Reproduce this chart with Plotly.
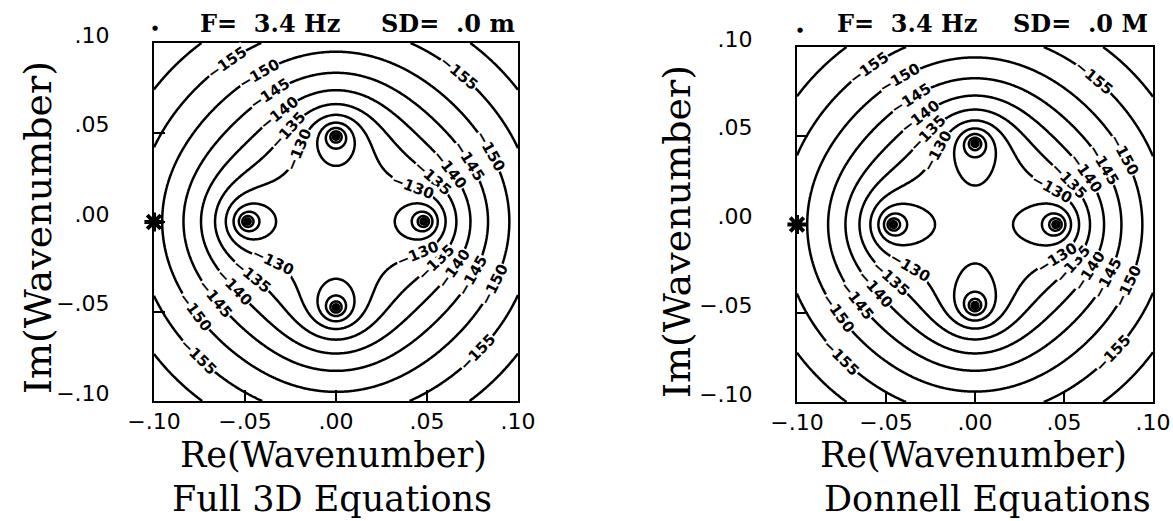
import numpy as np
import plotly.graph_objects as go

# ---------------- data ----------------
# Poles of the response in the complex wavenumber plane (Re, Im)
full3d_pole_re = [-0.0487, 0.0483, 0.0000, 0.0000]
full3d_pole_im = [0.0003, 0.0003, 0.0478, -0.0478]
donnell_pole_re = [-0.0460, 0.0456, 0.0000, 0.0000]
donnell_pole_im = [0.0000, 0.0000, 0.0458, -0.0458]
# level offset (dB) of each panel
full3d_gain = -232.3
donnell_gain = -232.6

labeled_levels = [-155, -150, -145, -140, -135, -130]
pole_levels = [-125, -120, -115, -110, -105, -100]
corner_levels = [-160]
# directions (deg, from the origin) along which the contour labels sit
label_rays_deg = [117, 25, 213, 338]
outer_label_rays_deg = [124, 51, 225, 317]

tick_vals = [-0.10, -0.05, 0.00, 0.05, 0.10]
tick_text = ["\u2212.10", "\u2212.05", ".00", ".05", ".10"]

source_point = [-0.10, 0.00]     # asterisk on the left edge

nb = "\u00a0"
title_left = ["F=" + nb * 2 + "3.4" + nb + "Hz", "F=" + nb * 2 + "3.4" + nb + "Hz"]
title_right = ["SD=" + nb * 2 + ".0" + nb + "m", "SD=" + nb * 2 + ".0" + nb + "M"]
subtitles = ["Full 3D Equations", "Donnell Equations"]
x_title = "Re(Wavenumber)"
y_title = "Im(Wavenumber)"

# ---------------- layout geometry (px) ----------------
W, H = 1173, 521
boxes = [dict(x0=154, x1=518, y0=43, y1=401), dict(x0=797, x1=1153, y0=47, y1=402)]

# ---------------- field ----------------
grid = np.linspace(-0.1, 0.1, 321)
X, Y = np.meshgrid(grid, grid)
K = X + 1j * Y


def z_of(k, pre, pim, gain):
    D = np.ones_like(k, dtype=complex)
    for a, b in zip(pre, pim):
        D = D * (k - (a + 1j * b))
    return gain - 20 * np.log10(np.abs(D) + 1e-30)


def grad_of(k, pre, pim):
    w = sum(1.0 / (k - (a + 1j * b)) for a, b in zip(pre, pim))
    c = -20 / np.log(10)
    return c * w.real, -c * w.imag


fig = go.Figure()
annotations = []
label_font = dict(family="DejaVu Sans", size=15, color="black", weight="bold")


def contour_labels(pre, pim, gain, xa, ya, box):
    sx = (box["x1"] - box["x0"]) / 0.2
    sy = (box["y1"] - box["y0"]) / 0.2
    r = np.linspace(0.012, 0.145, 5000)
    for L in labeled_levels:
        rays = outer_label_rays_deg if L == min(labeled_levels) else label_rays_deg
        for th in rays:
            k = r * np.exp(1j * np.deg2rad(th))
            d = z_of(k, pre, pim, gain) - L
            idx = np.where(np.sign(d[:-1]) != np.sign(d[1:]))[0]
            if len(idx) == 0:
                continue
            i = idx[-1]
            t = d[i] / (d[i] - d[i + 1])
            kk = k[i] + t * (k[i + 1] - k[i])
            if abs(kk.real) > 0.095 or abs(kk.imag) > 0.095:
                continue
            gx, gy = grad_of(kk, pre, pim)
            ang = np.degrees(np.arctan2(-gx * sy, -gy * sx))
            while ang > 90:
                ang -= 180
            while ang <= -90:
                ang += 180
            annotations.append(dict(text="\u2212%d" % abs(L), x=kk.real, y=kk.imag,
                                    xref=xa, yref=ya, showarrow=False, textangle=ang,
                                    font=label_font, bgcolor="white", borderpad=0,
                                    xanchor="center", yanchor="middle"))


def add_panel(pre, pim, gain, xa, ya, box):
    Z = np.round(np.minimum(z_of(K, pre, pim, gain), -95.0), 3)
    lv = labeled_levels + pole_levels + corner_levels
    fig.add_trace(go.Contour(x=grid, y=grid, z=Z, autocontour=False,
                             contours=dict(start=min(lv), end=max(lv) + 0.01, size=5,
                                           coloring="none", showlabels=False),
                             line=dict(color="black", width=2.5, smoothing=1),
                             showscale=False, hoverinfo="skip", xaxis=xa, yaxis=ya))
    fig.add_trace(go.Scatter(x=[source_point[0]], y=[source_point[1]], mode="markers",
                             marker=dict(symbol="asterisk", size=16, color="black",
                                         line=dict(color="black", width=4)),
                             cliponaxis=False, hoverinfo="skip", xaxis=xa, yaxis=ya))
    contour_labels(pre, pim, gain, xa, ya, box)


add_panel(full3d_pole_re, full3d_pole_im, full3d_gain, "x", "y", boxes[0])
add_panel(donnell_pole_re, donnell_pole_im, donnell_gain, "x2", "y2", boxes[1])

tickfont = dict(family="DejaVu Sans", size=22, color="black")


def xaxis(box, anchor):
    return dict(domain=[box["x0"] / W, box["x1"] / W], anchor=anchor, range=[-0.1, 0.1],
                showline=True, mirror=True, linecolor="black", linewidth=2,
                ticks="inside", ticklen=11, tickwidth=2, tickcolor="black",
                tickvals=tick_vals, ticktext=tick_text, tickfont=tickfont,
                showgrid=False, zeroline=False, ticklabelstandoff=0, automargin=False)


def yaxis(box, anchor):
    return dict(domain=[1 - box["y1"] / H, 1 - box["y0"] / H], anchor=anchor,
                range=[-0.1, 0.1], showline=True, mirror=True, linecolor="black",
                linewidth=2, ticks="inside", ticklen=11, tickwidth=2, tickcolor="black",
                tickvals=tick_vals, ticktext=tick_text, tickfont=tickfont,
                showgrid=False, zeroline=False, ticklabelstandoff=38, ticklabelshift=-8,
                automargin=False)


serif = "DejaVu Serif"
title_font = dict(family=serif, size=24, color="black", weight="bold")
panels = [
    dict(t1_x=270, t2_x=448, dot_x=155, dot_y=28, xlab_x=333, sub_x=332, ylab_x=38, ylab_y=228),
    dict(t1_x=907, t2_x=1080, dot_x=800, dot_y=30, xlab_x=973, sub_x=987, ylab_x=677, ylab_y=232),
]
for i, p in enumerate(panels):
    for txt, tx in ((title_left[i], p["t1_x"]), (title_right[i], p["t2_x"])):
        annotations.append(dict(text=txt, x=tx / W, y=1 - 23 / H, xref="paper",
                                yref="paper", showarrow=False, font=title_font,
                                xanchor="center", yanchor="middle"))
    annotations.append(dict(text="\u25cf", x=p["dot_x"] / W, y=1 - p["dot_y"] / H,
                            xref="paper", yref="paper", showarrow=False,
                            font=dict(family="DejaVu Sans", size=7, color="black"),
                            xanchor="center", yanchor="middle"))
    annotations.append(dict(text=x_title, x=p["xlab_x"] / W, y=1 - 477 / H, xref="paper",
                            yref="paper", showarrow=False,
                            font=dict(family=serif, size=35, color="black"),
                            xanchor="center", yanchor="bottom"))
    annotations.append(dict(text=subtitles[i], x=p["sub_x"] / W, y=1 - 477 / H, xref="paper",
                            yref="paper", showarrow=False,
                            font=dict(family=serif, size=35, color="black"),
                            xanchor="center", yanchor="top"))
    annotations.append(dict(text=y_title, x=p["ylab_x"] / W, y=1 - p["ylab_y"] / H,
                            xref="paper", yref="paper", showarrow=False, textangle=-90,
                            font=dict(family=serif, size=38, color="black"),
                            xanchor="center", yanchor="middle"))

fig.update_layout(
    width=W, height=H, margin=dict(l=0, r=0, t=0, b=0, autoexpand=False),
    paper_bgcolor="white", plot_bgcolor="white", showlegend=False,
    xaxis=xaxis(boxes[0], "y"), yaxis=yaxis(boxes[0], "x"),
    xaxis2=xaxis(boxes[1], "y2"), yaxis2=yaxis(boxes[1], "x2"),
    annotations=annotations,
)

fig.write_html("out.html")
